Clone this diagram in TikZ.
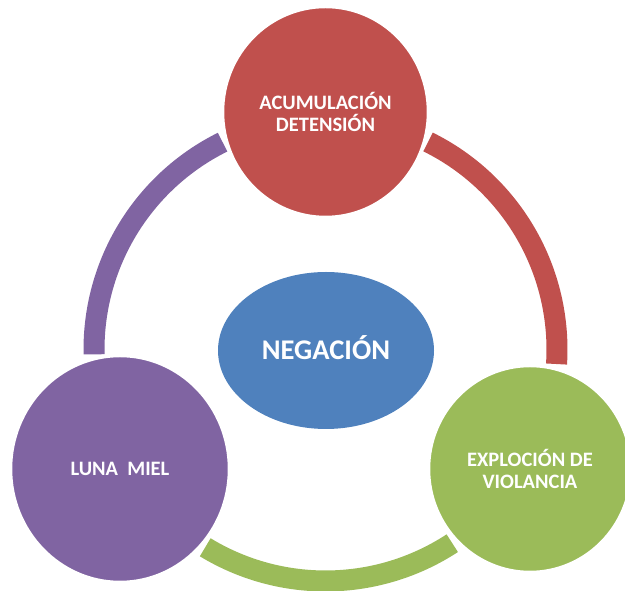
\documentclass[tikz,border=0pt]{standalone}
\usepackage{fontspec}
\setmainfont{Carlito}
\usetikzlibrary{shapes.geometric}
\definecolor{cred}{HTML}{C0504D}
\definecolor{cgreen}{HTML}{9BBB59}
\definecolor{cpurple}{HTML}{8064A2}
\definecolor{cblue}{HTML}{4F81BD}
\begin{document}
\begin{tikzpicture}[x=1pt,y=1pt,
  ringarc/.style={line width=21pt, line cap=butt},
  phase/.style={ellipse, draw=white, line width=2.5pt, inner sep=0pt, text=white,
    font=\fontsize{20.5}{22.5}\selectfont\bfseries, align=center}]
\useasboundingbox (0,0) rectangle (625,591);
\coordinate (c) at (325.5,241.5);
% ring arcs
\draw[ringarc, cred] ([shift={(63.7:231.5pt)}]c) arc[start angle=63.7, end angle=-3.6, radius=231.5pt];
\draw[ringarc, cgreen] ([shift={(-56.8:231.5pt)}]c) arc[start angle=-56.8, end angle=-121.3, radius=231.5pt];
\draw[ringarc, cpurple] ([shift={(181.2:231.5pt)}]c) arc[start angle=181.2, end angle=116.4, radius=231.5pt];
% phases
\node[phase, fill=cred, minimum width=205pt, minimum height=210pt] (acum) at (325.5,479) {ACUMULACIÓN\\DETENSIÓN};
\node[phase, fill=cpurple, minimum width=218pt, minimum height=226pt] (luna) at (120,122) {LUNA\ \ MIEL};
\node[phase, fill=cgreen, minimum width=202pt, minimum height=206pt] (expl) at (530,122) {EXPLOCIÓN DE\\VIOLANCIA};
\node[ellipse, fill=cblue, inner sep=0pt, text=white, minimum width=216pt, minimum height=157pt,
  font=\fontsize{28.5}{31}\selectfont\bfseries, text height=18.4pt, text depth=0pt] (neg) at (326,240.5) {NEGACIÓN};
\end{tikzpicture}
\end{document}
